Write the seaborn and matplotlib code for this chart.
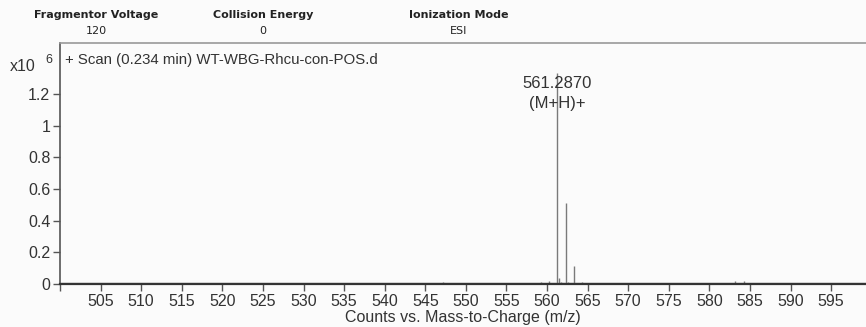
import matplotlib
matplotlib.use("Agg")
import matplotlib.pyplot as plt
import seaborn as sns
import numpy as np
import pandas as pd

# ---- data ----
mz = [531.0, 545.3, 547.2, 548.2, 549.3, 559.2, 560.3, 561.287, 561.45, 561.7,
      562.29, 562.6, 563.29, 564.3, 583.2, 584.3]
counts = [5e3, 4e3, 12e3, 8e3, 8e3, 15e3, 20e3, 1.33e6, 38e3, 15e3,
          0.51e6, 10e3, 0.115e6, 10e3, 22e3, 18e3]
x_ticks = [500, 505, 510, 515, 520, 525, 530, 535, 540, 545, 550, 555, 560,
           565, 570, 575, 580, 585, 590, 595]
y_ticks = [0, 0.2, 0.4, 0.6, 0.8, 1, 1.2]
y_ticklabels = ["0", "0.2", "0.4", "0.6", "0.8", "1", "1.2"]
header_titles = ["Fragmentor Voltage", "Collision Energy", "Ionization Mode"]
header_values = ["120", "0", "ESI"]
scan_title = "+ Scan (0.234 min) WT-WBG-Rhcu-con-POS.d"
peak_label = ["561.2870", "(M+H)+"]
x_label = "Counts vs. Mass-to-Charge (m/z)"

sns.set_style("white")
plt.rcParams['font.family'] = ['Liberation Sans', 'DejaVu Sans']

df = pd.DataFrame({"mz": mz, "int": np.array(counts) / 1e6})

fig = plt.figure(figsize=(8.66, 3.27), dpi=100)
fig.patch.set_facecolor("#fbfbfb")
ax = fig.add_axes([60 / 866, 1 - 284 / 327, 1 - 60 / 866, (284 - 43) / 327])
ax.set_facecolor("#fbfbfb")

# baseline
sns.lineplot(x=[500, 600], y=[0, 0], ax=ax, color="#333333", linewidth=1.6)
# sticks
ax.vlines(df["mz"], 0, df["int"], color="#7a7a7a", linewidth=1.0)

ax.set_xlim(500, 599.3)
ax.set_ylim(0, 1.522)
ax.set_xticks(x_ticks)
ax.set_xticklabels([""] + [str(t) for t in x_ticks[1:]])
ax.set_yticks(y_ticks)
ax.set_yticklabels(y_ticklabels)
ax.tick_params(axis="both", which="both", direction="out", length=5, width=1,
               color="#555555", labelsize=11.5, labelcolor="#333333", pad=2,
               bottom=True, left=True)

ax.spines["right"].set_visible(False)
ax.spines["top"].set_color("#999999")
ax.spines["top"].set_linewidth(1.2)
ax.spines["left"].set_color("#555555")
ax.spines["left"].set_linewidth(1.2)
ax.spines["bottom"].set_color("#333333")
ax.spines["bottom"].set_linewidth(1.6)

ax.set_xlabel(x_label, fontsize=11.5, color="#333333", labelpad=1)
ax.set_ylabel("")

# peak annotation
pk = df.loc[df["int"].idxmax(), "mz"]
ax.text(pk, 1.235, peak_label[0], ha="center", va="baseline", fontsize=12, color="#333333")
ax.text(pk, 1.11, peak_label[1], ha="center", va="baseline", fontsize=12, color="#333333")

# scan title and multiplier
fig.text(65 / 866, 1 - 64 / 327, scan_title, fontsize=10.8, color="#333333", va="baseline")
fig.text(10 / 866, 1 - 71 / 327, "x10", fontsize=11.5, color="#333333", va="baseline")
fig.text(45 / 866, 1 - 63 / 327, "6", fontsize=9, color="#333333", va="baseline")

# header
hx = [96, 263, 459]
for x, t, v in zip(hx, header_titles, header_values):
    fig.text(x / 866, 1 - 18 / 327, t, ha="center", va="baseline", fontsize=8,
             fontweight="bold", family="DejaVu Sans", color="#222222")
    fig.text(x / 866, 1 - 34 / 327, v, ha="center", va="baseline", fontsize=8,
             family="DejaVu Sans", color="#222222")

fig.savefig("out.png", dpi=100, facecolor=fig.get_facecolor())
